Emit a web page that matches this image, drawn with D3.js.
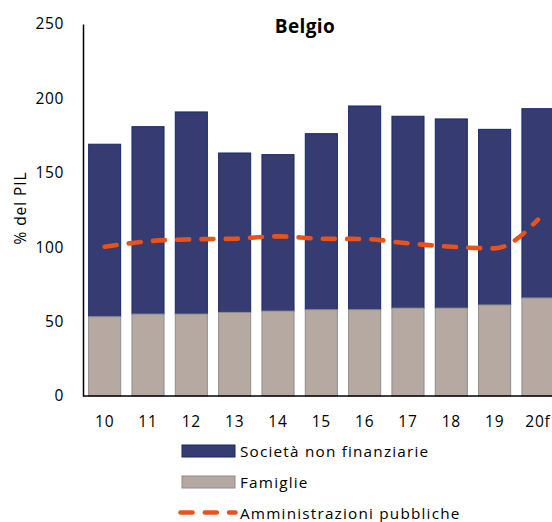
<!DOCTYPE html>
<meta charset="utf-8">
<style>
body{margin:0;background:white}
text{font-family:"Open Sans", sans-serif;fill:#000}
</style>
<svg width="552" height="522"></svg>
<script src="https://d3js.org/d3.v7.min.js"></script>
<script>

// data (% of GDP)
var years = ["10","11","12","13","14","15","16","17","18","19","20f"];
var famiglie = [53.3, 55.1, 55.1, 56.2, 57.1, 58.0, 58.0, 59.1, 59.1, 61.2, 65.9];
var totale = [169.2, 181.0, 190.9, 163.3, 162.2, 176.3, 194.9, 188.0, 186.2, 179.2, 193.1];
var societa = totale.map(function(t, i) { return t - famiglie[i]; });
var amministrazioni = [100.3, 104.0, 105.3, 105.7, 107.3, 105.7, 105.5, 102.6, 100.3, 99.2, 118.5];
var yTicks = [0, 50, 100, 150, 200, 250];

var svg = d3.select("svg");
var navy = "#363c72", navyEdge = "#12296b",
    sand = "#b5a9a2", sandEdge = "#8e8c8a",
    orange = "#e8531c";

var x0 = 83, yBase = 396, yTop = 24;
var step = 43.33;

var x = d3.scaleBand()
    .domain(years)
    .range([x0, x0 + step * years.length])
    .paddingInner(0.26)
    .paddingOuter(0.13);

var y = d3.scaleLinear().domain([0, 250]).range([yBase, yTop]);

var rows = years.map(function(d, i) {
  return {year: d, fam: famiglie[i], soc: societa[i], ap: amministrazioni[i]};
});

// bars
var g = svg.append("g");
g.selectAll("rect.soc")
  .data(rows)
  .enter().append("rect")
    .attr("class", "soc")
    .attr("x", function(d) { return x(d.year); })
    .attr("width", x.bandwidth())
    .attr("y", function(d) { return y(d.fam + d.soc); })
    .attr("height", function(d) { return y(d.fam) - y(d.fam + d.soc); })
    .attr("fill", navy)
    .attr("stroke", navyEdge)
    .attr("stroke-width", 1);

g.selectAll("rect.fam")
  .data(rows)
  .enter().append("rect")
    .attr("class", "fam")
    .attr("x", function(d) { return x(d.year); })
    .attr("width", x.bandwidth())
    .attr("y", function(d) { return y(d.fam); })
    .attr("height", function(d) { return y(0) - y(d.fam); })
    .attr("fill", sand)
    .attr("stroke", sandEdge)
    .attr("stroke-width", 1);

// line
var line = d3.line()
    .x(function(d) { return x(d.year) + x.bandwidth() / 2; })
    .y(function(d) { return y(d.ap); })
    .curve(d3.curveMonotoneX);

svg.append("path")
    .datum(rows)
    .attr("d", line)
    .attr("fill", "none")
    .attr("stroke", orange)
    .attr("stroke-width", 4.6)
    .attr("stroke-linecap", "round")
    .attr("stroke-dasharray", "12,12.3");

// axes
var yAxis = d3.axisLeft(y).tickValues(yTicks).tickSize(0).tickPadding(19);
svg.append("g")
    .attr("transform", "translate(" + x0 + ",0)")
    .call(yAxis)
    .call(function(s) {
      s.select(".domain").attr("stroke", "#000").attr("stroke-width", 1.5);
      s.selectAll("text").style("font-size", "15.5px").style("font-family", "'Open Sans', sans-serif")
        .style("letter-spacing", "0.6px");
    });

var xAxis = d3.axisBottom(x).tickSize(0).tickPadding(20);
svg.append("g")
    .attr("transform", "translate(0," + yBase + ")")
    .call(xAxis)
    .call(function(s) {
      s.select(".domain").attr("d", "M" + x0 + ",0H552").attr("stroke", "#000").attr("stroke-width", 1.5);
      s.selectAll("text").style("font-size", "15.5px").style("font-family", "'Open Sans', sans-serif")
        .style("letter-spacing", "0.8px");
    });

// title + y label
svg.append("text")
    .attr("x", 305).attr("y", 33)
    .attr("text-anchor", "middle")
    .style("font-size", "19px").style("font-weight", "bold")
    .style("letter-spacing", "0.4px")
    .text("Belgio");

svg.append("text")
    .attr("transform", "translate(26,208) rotate(-90)")
    .attr("text-anchor", "middle")
    .style("font-size", "15.5px")
    .style("letter-spacing", "0.9px")
    .text("% del PIL");

// legend
var legend = [
  {name: "Società non finanziarie", type: "rect", fill: navy, edge: navyEdge, y: 451},
  {name: "Famiglie", type: "rect", fill: sand, edge: sandEdge, y: 482},
  {name: "Amministrazioni pubbliche", type: "line", y: 512.5}
];
var lg = svg.append("g");
legend.forEach(function(d) {
  if (d.type === "rect") {
    lg.append("rect")
      .attr("x", 182).attr("y", d.y - 6)
      .attr("width", 53).attr("height", 12)
      .attr("fill", d.fill).attr("stroke", d.edge).attr("stroke-width", 1);
  } else {
    lg.append("line")
      .attr("x1", 180.5).attr("x2", 235.5)
      .attr("y1", d.y).attr("y2", d.y)
      .attr("stroke", orange).attr("stroke-width", 4.6)
      .attr("stroke-linecap", "round")
      .attr("stroke-dasharray", "12,12.3");
  }
  lg.append("text")
    .attr("x", 240).attr("y", d.y + 6)
    .style("font-size", "15.3px")
    .style("letter-spacing", "1.2px")
    .text(d.name);
});

</script>
